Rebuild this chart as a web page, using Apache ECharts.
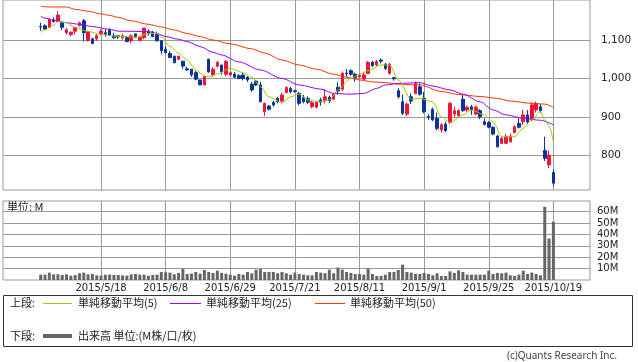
<!DOCTYPE html>
<html><head><meta charset="utf-8">
<script src="https://cdn.jsdelivr.net/npm/echarts@6/dist/echarts.min.js"></script>
<style>html,body{margin:0;padding:0;background:#fff}#c{width:638px;height:362px}</style>
</head><body><div id="c"></div>
<script>
// ---- data ----
const opens  = [1135,1137,1133,1152,1148,1145,1119,1114,1123,1137, 1150,1099,1103,1103,1116,1119,1126,1111,1111,1106, 1106,1098,1116,1099,1106,1123,1121,1115,1098,1076, 1065,1057,1050,1045,1025,1024,1015,996,983,1050, 1009,1032,1035,1011,1009,1011,1007,1009,1003,985, 993,983,913,928,938,948,941,963,974,968, 961,950,948,926,925,944,942,951,946,977, 972,1014,1020,1011,1004,998,1013,1042,1035,1048, 1037,1013,1002,968,939,907,952,961,978,948, 901,920,896,866,881,885,907,903,946,918, 926,907,916,887,885,873,850,831,831,835, 859,883,887,905,894,918,926,812,775,755];
const closes = [1134,1129,1154,1148,1165,1133,1127,1120,1133,1145, 1119,1122,1091,1111,1123,1114,1113,1106,1108,1111, 1096,1111,1109,1107,1131,1116,1109,1098,1072,1067, 1054,1041,1058,1032,1022,1009,998,983,1005,1017, 1024,1042,1017,1044,1015,1003,1000,1000,996,970, 983,939,935,920,931,939,957,976,965,966, 935,939,938,937,938,938,952,942,959,967, 1013,1012,1011,1002,1008,1009,1042,1033,1044,1045, 1026,1037,999,952,909,933,941,987,959,913, 899,892,870,879,864,935,916,916,916,925, 918,925,900,880,873,855,822,844,848,850, 874,873,905,887,931,935,916,792,800,727];
const lows   = [1124,1126,1132,1145,1148,1126,1114,1110,1114,1136, 1096,1096,1089,1098,1112,1109,1111,1103,1103,1101, 1094,1091,1105,1097,1102,1112,1109,1096,1064,1065, 1054,1039,1048,1025,1020,1004,995,983,983,1015, 1004,1028,1010,1006,1007,1002,998,995,991,965, 980,939,902,916,926,935,935,961,961,963, 930,935,933,922,922,929,935,935,944,958, 967,1004,1007,991,1000,996,1011,1030,1032,1039, 1022,1010,994,948,905,902,933,959,955,909, 892,889,865,859,860,881,900,900,913,913, 905,905,894,878,870,852,820,829,829,833, 857,870,879,881,889,911,911,785,766,720];
const highs  = [1145,1141,1156,1159,1175,1145,1131,1123,1133,1148, 1155,1124,1106,1115,1128,1128,1130,1119,1111,1116, 1109,1115,1116,1109,1131,1128,1124,1122,1098,1083, 1071,1060,1058,1045,1030,1024,1020,996,1008,1051, 1030,1045,1035,1048,1018,1017,1011,1014,1006,991, 996,991,937,931,941,952,963,980,978,970, 965,957,953,941,941,950,972,955,961,990, 1018,1024,1024,1015,1012,1015,1045,1046,1048,1052, 1040,1040,1004,974,957,937,961,992,987,965, 907,924,911,883,887,938,926,920,957,929, 931,929,920,896,889,875,853,848,855,857, 878,896,918,918,937,940,933,848,812,763];
const volumes = [4.7,4.7,6.5,5.0,5.0,4.4,5.0,3.8,4.4,5.9, 6.5,5.0,5.3,4.1,3.8,4.7,4.7,4.4,4.4,4.1, 3.8,5.0,5.3,4.7,4.7,3.8,4.4,4.7,7.1,6.8, 6.5,5.0,6.2,9.7,5.3,5.6,7.1,5.6,8.8,7.1, 6.2,8.2,6.2,5.6,4.7,3.8,5.3,4.7,7.1,5.9, 9.1,9.7,7.1,7.1,7.1,5.9,7.1,5.9,4.7,6.5, 5.3,4.7,4.1,4.1,7.1,6.5,5.9,9.1,5.9,10.9, 9.1,7.1,6.2,5.3,5.3,4.7,10.0,5.3,3.5,3.5, 4.7,7.1,7.1,8.8,13.5,7.1,6.5,5.3,5.3,6.2, 5.3,4.1,5.9,3.5,3.5,7.6,6.2,8.5,7.1,4.7, 4.7,4.7,4.7,4.7,8.2,5.3,6.2,5.9,6.5,4.1, 3.5,4.7,8.2,5.3,6.5,5.3,4.1,64.4,36.5,51.2];
// moving averages read at points: [day index, value]
const ma5  = [[0,1120],[1,1126],[3,1139],[4,1148],[6,1145],[8,1133],[11,1122],[14,1115],[17,1110],[20,1109],[22,1107],[25,1117],[27,1117],[28,1109],[30,1083],[32,1065],[34,1048],[36,1022],[38,1006],[39,1004],[41,1012],[44,1026],[47,1015],[49,1003],[51,978],[53,952],[56,937],[58,952],[60,959],[62,944],[65,939],[67,944],[69,970],[72,1000],[74,1011],[76,1020],[79,1035],[81,1035],[83,996],[86,946],[88,948],[91,939],[93,900],[95,885],[98,905],[100,918],[103,905],[105,887],[107,848],[110,848],[112,870],[114,892],[116,913],[117,892],[118,876],[119,835]];
const ma25 = [[0,1162],[1,1157],[3,1152],[6,1145],[9,1141],[12,1135],[16,1128],[18,1123],[25,1122],[27,1117],[29,1109],[32,1102],[34,1096],[37,1083],[40,1068],[42,1061],[46,1043],[51,1022],[56,1000],[60,983],[65,972],[68,961],[72,959],[75,961],[78,974],[80,983],[83,987],[88,989],[91,980],[95,970],[98,959],[102,939],[105,918],[108,905],[112,896],[116,891],[119,879]];
const ma50 = [[0,1188],[2,1186],[6,1186],[8,1180],[11,1175],[14,1168],[16,1164],[18,1159],[21,1150],[25,1141],[28,1134],[31,1126],[34,1117],[37,1109],[40,1100],[44,1090],[49,1077],[52,1066],[56,1048],[60,1035],[64,1024],[68,1011],[71,1003],[74,996],[77,991],[80,989],[83,985],[88,983],[93,966],[97,958],[102,953],[106,948],[109,941],[114,935],[117,933],[119,925]];
const tickIdx    = [14,29,44,59,74,89,104,119];
const tickLabels = ['2015/5/18','2015/6/8','2015/6/29','2015/7/21','2015/8/11','2015/9/1','2015/9/25','2015/10/19'];
const priceTicks = [800,900,1000,1100];
const volTicks   = [10,20,30,40,50,60];
const legendTop    = ['上段:','単純移動平均(5)','単純移動平均(25)','単純移動平均(50)'];
const legendBottom = ['下段:','出来高 単位:(M株/口/枚)'];
const unitLabel = '単位: M';
const copyright = '(c)Quants Research Inc.';

// ---- chart ----
const FONT = 'DejaVu Sans';
const JP = '"Noto Sans CJK JP"';
const GRID = '#999999';
const UP = '#f0143c', DOWN = '#0a3399';
const C5 = '#99cc00', C25 = '#9900ff', C50 = '#ff3300';
const X_MIN = -8.75, X_MAX = 127.5;

const candleData = opens.map((o, i) => [i, o, closes[i], lows[i], highs[i]]);
const volData = volumes.map((v, i) => [i, v]);

function xAxisCfg(grid, showLabel) {
  return {
    type: 'value', gridIndex: grid, min: X_MIN, max: X_MAX,
    axisLine: { show: false },
    axisTick: { show: false, customValues: tickIdx },
    axisLabel: showLabel ? {
      customValues: tickIdx,
      formatter: v => tickLabels[tickIdx.indexOf(v)] || '',
      fontFamily: FONT, fontSize: 10, color: '#222', margin: 3
    } : { show: false },
    splitLine: { show: true, lineStyle: { color: GRID, width: 1 } }
  };
}

const chart = echarts.init(document.getElementById('c'));
const tx = (text, x, y, opt) => Object.assign({
  type: 'text', silent: true,
  style: Object.assign({ text, x, y, font: '11px ' + JP, fill: '#222', verticalAlign: 'middle', textVerticalAlign: 'middle' }, opt || {})
});
const ln = (x1, x2, y, color, w) => ({ type: 'line', silent: true, shape: { x1, y1: y, x2, y2: y }, style: { stroke: color, lineWidth: w } });

chart.setOption({
  animation: false,
  backgroundColor: '#fff',
  grid: [
    { left: 3, top: 0, width: 587, height: 190, show: true, borderColor: GRID, borderWidth: 1, backgroundColor: 'transparent' },
    { left: 3, top: 201, width: 587, height: 79, show: true, borderColor: GRID, borderWidth: 1, backgroundColor: 'transparent' }
  ],
  xAxis: [xAxisCfg(0, false), xAxisCfg(1, true)],
  yAxis: [
    { type: 'value', gridIndex: 0, position: 'right', min: 709.4, max: 1204.2,
      axisLine: { show: false },
      axisTick: { show: true, length: 6, lineStyle: { color: GRID }, customValues: priceTicks },
      axisLabel: { customValues: priceTicks, formatter: v => v.toLocaleString('en-US'), fontFamily: FONT, fontSize: 10.5, color: '#222', margin: 11 },
      splitLine: { show: true, lineStyle: { color: GRID } } },
    { type: 'value', gridIndex: 1, position: 'right', min: 0, max: 69.4,
      axisLine: { show: false },
      axisTick: { show: true, length: 3, lineStyle: { color: GRID }, customValues: volTicks },
      axisLabel: { customValues: volTicks, formatter: v => v + 'M', fontFamily: FONT, fontSize: 10, color: '#222', margin: 7 },
      splitLine: { show: true, lineStyle: { color: GRID } } }
  ],
  series: [
    { type: 'candlestick', xAxisIndex: 0, yAxisIndex: 0, z: 3,
      dimensions: ['idx', 'open', 'close', 'lowest', 'highest'],
      encode: { x: 'idx', y: ['open', 'close', 'lowest', 'highest'] },
      data: candleData, barWidth: 3,
      itemStyle: { color: UP, color0: DOWN, borderColor: UP, borderColor0: DOWN, borderWidth: 1 } },
    { type: 'line', xAxisIndex: 0, yAxisIndex: 0, z: 4, data: ma50, showSymbol: false, smooth: 0.3, smoothMonotone: 'x', lineStyle: { color: C50, width: 1 } },
    { type: 'line', xAxisIndex: 0, yAxisIndex: 0, z: 4, data: ma25, showSymbol: false, smooth: 0.3, smoothMonotone: 'x', lineStyle: { color: C25, width: 1 } },
    { type: 'line', xAxisIndex: 0, yAxisIndex: 0, z: 5, data: ma5, showSymbol: false, smooth: 0.3, smoothMonotone: 'x', lineStyle: { color: C5, width: 1 } },
    { type: 'bar', xAxisIndex: 1, yAxisIndex: 1, z: 3, data: volData, barWidth: 3, itemStyle: { color: '#666666' } }
  ],
  graphic: [
    tx(unitLabel, 7, 206.5),
    { type: 'rect', silent: true, shape: { x: 3.5, y: 295.5, width: 629, height: 51 }, style: { fill: 'none', stroke: '#333', lineWidth: 1 } },
    tx(legendTop[0], 10, 303),
    ln(43, 72, 303.5, C5, 1), tx(legendTop[1], 78, 303),
    ln(170, 201, 303.5, C25, 1), tx(legendTop[2], 206, 303),
    ln(315, 345, 303.5, C50, 1), tx(legendTop[3], 350, 303),
    tx(legendBottom[0], 10, 336),
    ln(43, 72, 336, '#666', 4), tx(legendBottom[1], 78, 336),
    tx(copyright, 617, 356, { textAlign: 'right', align: 'right', font: '10px "Noto Sans"', fill: '#444' })
  ]
});
</script></body></html>
